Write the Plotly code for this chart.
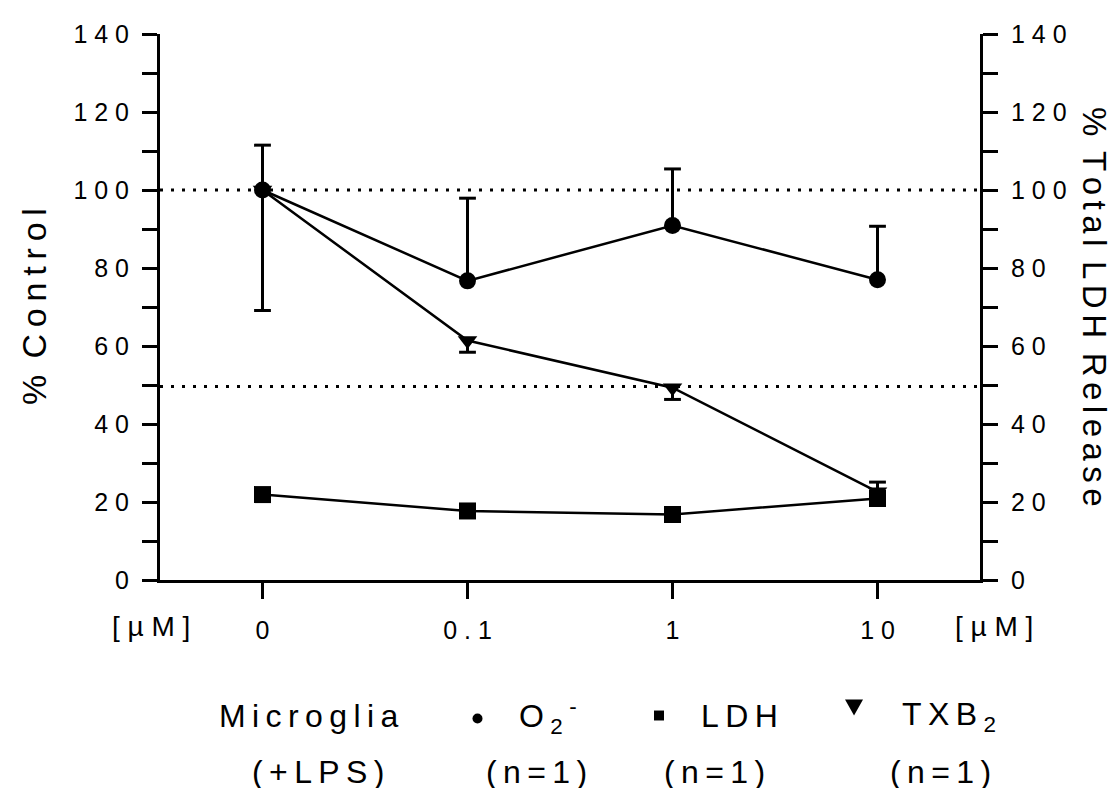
import plotly.graph_objects as go

# ---------------- data ----------------
conc_labels = ["0", "0.1", "1", "10"]
x_idx = [0, 1, 2, 3]

o2_values = [100.0, 76.7, 90.9, 77.0]
o2_err_up = [11.5, 21.2, 14.5, 13.7]

ldh_values = [21.9, 17.7, 16.8, 20.9]
ldh_err_up = [0.0, 0.0, 0.0, 4.2]

txb2_values = [100.0, 61.4, 49.3, 22.6]
txb2_err_down = [30.9, 3.0, 3.0, 0.0]

ref_lines = [100, 49.6]
y_major_ticks = list(range(0, 141, 20))
y_minor_step = 10

# ---------------- style ----------------
FONT = "Arial, Liberation Sans, sans-serif"
W, H = 1117, 788
M_L, M_R, M_T, M_B = 152, 145, 24, 216
PL, PR, PT, PB = M_L, W - M_R, M_T, H - M_B
THIN = "\u2009"
SIXTH = "\u2006"


def spaced(s, sep=" "):
    return sep.join(s)


def spaced_words(s, sep):
    return (" " + sep).join(sep.join(w) for w in s.split(" "))


def fx(px):
    return (px - PL) / (PR - PL)


def fy(py):
    return (PB - py) / (PB - PT)


fig = go.Figure()

# error bars (drawn under markers)
fig.add_trace(go.Scatter(
    x=x_idx, y=txb2_values, mode="none", yaxis="y",
    error_y=dict(type="data", symmetric=False, array=[0] * len(x_idx),
                 arrayminus=txb2_err_down, width=0, thickness=3, color="black"),
    hoverinfo="skip"))
fig.add_trace(go.Scatter(
    x=x_idx, y=o2_values, mode="none", yaxis="y",
    error_y=dict(type="data", symmetric=False, array=o2_err_up,
                 arrayminus=[0] * len(x_idx), width=0, thickness=3, color="black"),
    hoverinfo="skip"))

# caps
cap_x = [x for x, e in zip(x_idx, txb2_err_down) if e > 0] + \
        [x for x, e in zip(x_idx, o2_err_up) if e > 0]
cap_y = [v - e for v, e in zip(txb2_values, txb2_err_down) if e > 0] + \
        [v + e for v, e in zip(o2_values, o2_err_up) if e > 0]
fig.add_trace(go.Scatter(
    x=cap_x, y=cap_y, mode="markers", yaxis="y",
    marker=dict(symbol="line-ew", size=12, line=dict(width=3, color="black")),
    hoverinfo="skip"))

# TXB2
fig.add_trace(go.Scatter(
    x=x_idx, y=txb2_values, mode="lines+markers", yaxis="y", name="TXB2",
    line=dict(color="black", width=2.5),
    marker=dict(symbol="triangle-down", size=17, color="black")))
# O2-
fig.add_trace(go.Scatter(
    x=x_idx, y=o2_values, mode="lines+markers", yaxis="y", name="O2-",
    line=dict(color="black", width=2.5),
    marker=dict(symbol="circle", size=17, color="black")))

# LDH on right axis
fig.add_trace(go.Scatter(
    x=x_idx, y=ldh_values, mode="none", yaxis="y2",
    error_y=dict(type="data", symmetric=False, array=ldh_err_up,
                 arrayminus=[0] * len(x_idx), width=0, thickness=3, color="black"),
    hoverinfo="skip"))
fig.add_trace(go.Scatter(
    x=[x for x, e in zip(x_idx, ldh_err_up) if e > 0],
    y=[v + e for v, e in zip(ldh_values, ldh_err_up) if e > 0],
    mode="markers", yaxis="y2",
    marker=dict(symbol="line-ew", size=12, line=dict(width=3, color="black")),
    hoverinfo="skip"))
fig.add_trace(go.Scatter(
    x=x_idx, y=ldh_values, mode="lines+markers", yaxis="y2", name="LDH",
    line=dict(color="black", width=2.5),
    marker=dict(symbol="square", size=17, color="black")))

# reference dotted lines
for v in ref_lines:
    fig.add_shape(type="line", xref="paper", x0=0, x1=1, yref="y", y0=v, y1=v,
                  line=dict(color="black", width=3, dash="3px,8px"), layer="below")

y_tick_text = [spaced(str(v)) for v in y_major_ticks]

axis_common = dict(showline=True, linewidth=3, linecolor="black", ticks="outside",
                   tickwidth=3, tickcolor="black", showgrid=False, zeroline=False)
minor_y = dict(ticks="outside", ticklen=15, tickwidth=3, tickcolor="black",
               tick0=0, dtick=y_minor_step, showgrid=False)

fig.update_layout(
    width=W, height=H, autosize=False,
    margin=dict(l=M_L, r=M_R, t=M_T, b=M_B),
    paper_bgcolor="white", plot_bgcolor="white", showlegend=False,
    font=dict(family=FONT, color="black"),
    xaxis=dict(range=[-0.5, 3.5], tickmode="array", tickvals=x_idx,
               ticktext=[spaced(c) for c in conc_labels], ticklen=16,
               tickfont=dict(size=25, family=FONT, color="black"),
               ticklabelstandoff=10, **axis_common),
    yaxis=dict(range=[0, 140], tickmode="array", tickvals=y_major_ticks,
               ticktext=y_tick_text, ticklen=15, minor=minor_y,
               tickfont=dict(size=25, family=FONT, color="black"),
               ticklabelstandoff=8, **axis_common),
    yaxis2=dict(range=[0, 140], tickmode="array", tickvals=y_major_ticks,
                ticktext=y_tick_text, ticklen=15, side="right", overlaying="y",
                anchor="x", minor=minor_y,
                tickfont=dict(size=25, family=FONT, color="black"),
                ticklabelstandoff=8, **axis_common),
)

ann = []


def add_text(text, px, py, size, xanchor="center", yanchor="middle", angle=0):
    ann.append(dict(text=text, x=fx(px), y=fy(py), xref="paper", yref="paper",
                    xanchor=xanchor, yanchor=yanchor, showarrow=False,
                    textangle=angle,
                    font=dict(size=size, family=FONT, color="black")))


# axis titles
add_text(spaced_words("% Control", THIN), 26, 298, 34, angle=-90)
add_text(spaced_words("% Total LDH Release", SIXTH), 1087, 298, 33, angle=90)

# [µM] unit labels
unit = spaced("[\u00b5M]")
add_text(unit, 143, 619, 28)
add_text(unit, 986, 619, 28)

# legend-like text block
LS = 32
row1, row2 = 708.5, 765
add_text(spaced("Microglia", THIN), 300, row1, LS)
add_text(spaced("(+LPS)", THIN), 310, row2, LS)
add_text("O" + THIN + "<sub>2</sub>" + THIN + "<sup>-</sup>", 509, row1, LS, xanchor="left")
add_text(spaced("LDH", THIN), 691, row1, LS, xanchor="left")
add_text(spaced("TXB", THIN) + THIN + "<sub>2</sub>", 892, row1, LS, xanchor="left")
for cx in [528, 706, 932]:
    add_text(spaced("(n=1)", THIN), cx, row2, LS)

fig.update_layout(annotations=ann)

# legend symbols
fig.add_shape(type="circle", xref="paper", yref="paper",
              x0=fx(464.5), x1=fx(474.5), y0=fy(716), y1=fy(706),
              fillcolor="black", line=dict(width=0))
fig.add_shape(type="rect", xref="paper", yref="paper",
              x0=fx(646), x1=fx(656), y0=fy(713), y1=fy(703),
              fillcolor="black", line=dict(width=0))
fig.add_shape(type="path", xref="paper", yref="paper",
              path=f"M {fx(837)} {fy(692)} L {fx(855)} {fy(692)} L {fx(846)} {fy(708)} Z",
              fillcolor="black", line=dict(width=0))

fig.write_html("out.html")
